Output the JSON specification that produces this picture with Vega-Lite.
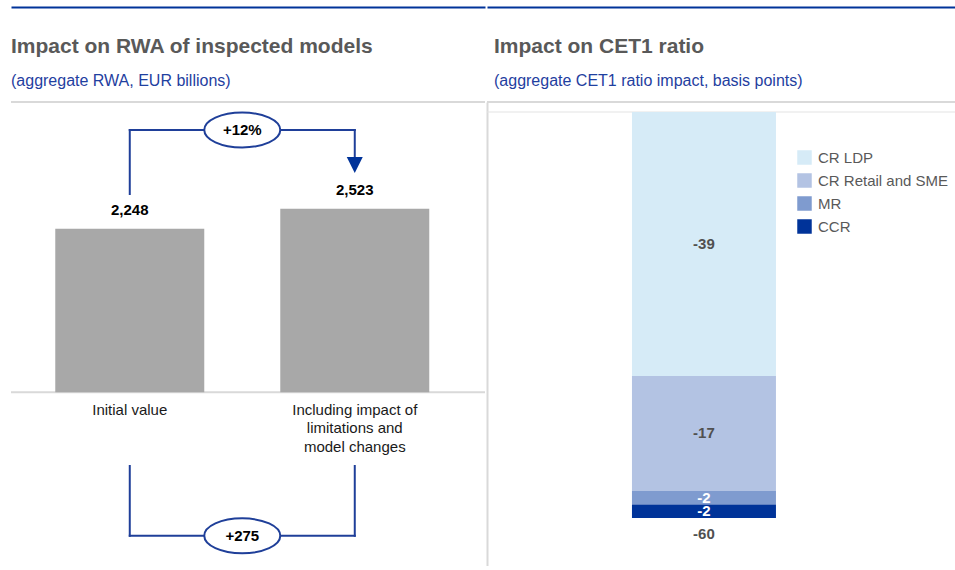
{
  "$schema": "https://vega.github.io/schema/vega-lite/v6.json",
  "padding": {"left": 10, "top": 7, "right": 0, "bottom": 0},
  "background": "white",
  "spacing": 0,
  "config": {
    "view": {"stroke": null},
    "font": "Liberation Sans",
    "title": {"font": "Liberation Sans", "subtitleFont": "Liberation Sans"},
    "locale": {"number": {"decimal": ".", "thousands": ",", "grouping": [3], "currency": ["", ""], "minus": "-"}}
  },
  "datasets": {
    "rwa": [
      {"stage": "Initial value", "rwa": 2248},
      {"stage": "Including impact of\nlimitations and\nmodel changes", "rwa": 2523}
    ],
    "cet1": [
      {"risk": "CR LDP", "bp": -39, "rank": 1},
      {"risk": "CR Retail and SME", "bp": -17, "rank": 2},
      {"risk": "MR", "bp": -2, "rank": 3},
      {"risk": "CCR", "bp": -2, "rank": 4}
    ]
  },
  "hconcat": [
    {
      "width": 474,
      "height": 464,
      "title": {
        "text": "Impact on RWA of inspected models",
        "subtitle": "(aggregate RWA, EUR billions)",
        "anchor": "start", "frame": "group", "offset": -82,
        "fontSize": 21, "fontWeight": "bold", "color": "#595959",
        "subtitleFontSize": 16, "subtitleColor": "#1f40a0", "subtitlePadding": 16
      },
      "layer": [
        {
          "data": {"values": [{}]},
          "mark": {"type": "rule", "color": "#d9d9d9", "strokeWidth": 2},
          "encoding": {"y": {"datum": 3990, "type": "quantitative", "scale": {"domain": [-2390, 3990], "nice": false, "zero": false}, "axis": null}}
        },
        {
          "data": {"values": [{}]},
          "mark": {"type": "rule", "color": "#d9d9d9", "strokeWidth": 2},
          "encoding": {"y": {"datum": 0, "type": "quantitative", "scale": {"domain": [-2390, 3990], "nice": false, "zero": false}, "axis": null}}
        },
        {
          "data": {"name": "rwa"},
          "mark": {"type": "bar", "color": "#a8a8a8", "width": 149},
          "encoding": {
            "x": {
              "field": "stage", "type": "nominal",
              "scale": {"type": "band", "domain": ["Initial value", "Change", "Including impact of\nlimitations and\nmodel changes"], "paddingInner": 0, "paddingOuter": 0.6067, "align": 0.458},
              "axis": {"orient": "top", "offset": 95, "domainColor": "#003399", "domainWidth": 2, "labels": false, "ticks": false, "grid": false, "title": null}
            },
            "y": {"field": "rwa", "type": "quantitative", "scale": {"domain": [-2390, 3990], "nice": false, "zero": false}, "axis": null}
          }
        },
        {
          "data": {"name": "rwa"},
          "mark": {"type": "text", "baseline": "alphabetic", "dy": -14, "fontSize": 15, "fontWeight": "bold", "color": "#000000"},
          "encoding": {
            "x": {"field": "stage", "type": "nominal", "axis": {"orient": "top", "offset": 95, "domainColor": "#003399", "domainWidth": 2, "labels": false, "ticks": false, "grid": false, "title": null}},
            "y": {"field": "rwa", "type": "quantitative", "scale": {"domain": [-2390, 3990], "nice": false, "zero": false}, "axis": null},
            "text": {"field": "rwa", "type": "quantitative", "format": ","}
          }
        },
        {
          "data": {"name": "rwa"},
          "mark": {"type": "text", "baseline": "alphabetic", "lineBreak": "\n", "lineHeight": 18.5, "fontSize": 15, "color": "#1a1a1a"},
          "encoding": {
            "x": {"field": "stage", "type": "nominal", "axis": {"orient": "top", "offset": 95, "domainColor": "#003399", "domainWidth": 2, "labels": false, "ticks": false, "grid": false, "title": null}},
            "y": {"datum": -313, "type": "quantitative", "scale": {"domain": [-2390, 3990], "nice": false, "zero": false}, "axis": null},
            "text": {"field": "stage", "type": "nominal"}
          }
        },
        {
          "data": {"values": [{}]},
          "mark": {"type": "rule", "color": "#1f3f99", "strokeWidth": 2, "strokeCap": "square"},
          "encoding": {
            "x": {"datum": "Initial value", "axis": {"orient": "top", "offset": 95, "domainColor": "#003399", "domainWidth": 2, "labels": false, "ticks": false, "grid": false, "title": null}},
            "y": {"datum": 2725, "type": "quantitative", "scale": {"domain": [-2390, 3990], "nice": false, "zero": false}, "axis": null},
            "y2": {"datum": 3605}
          }
        },
        {
          "data": {"values": [{}]},
          "mark": {"type": "rule", "color": "#1f3f99", "strokeWidth": 2, "strokeCap": "square"},
          "encoding": {
            "x": {"datum": "Initial value", "axis": {"orient": "top", "offset": 95, "domainColor": "#003399", "domainWidth": 2, "labels": false, "ticks": false, "grid": false, "title": null}},
            "x2": {"datum": "Including impact of\nlimitations and\nmodel changes"},
            "y": {"datum": 3605, "type": "quantitative", "scale": {"domain": [-2390, 3990], "nice": false, "zero": false}, "axis": null}
          }
        },
        {
          "data": {"values": [{}]},
          "mark": {"type": "rule", "color": "#1f3f99", "strokeWidth": 2, "strokeCap": "square"},
          "encoding": {
            "x": {"datum": "Including impact of\nlimitations and\nmodel changes", "axis": {"orient": "top", "offset": 95, "domainColor": "#003399", "domainWidth": 2, "labels": false, "ticks": false, "grid": false, "title": null}},
            "y": {"datum": 3605, "type": "quantitative", "scale": {"domain": [-2390, 3990], "nice": false, "zero": false}, "axis": null},
            "y2": {"datum": 3234}
          }
        },
        {
          "data": {"values": [{}]},
          "mark": {"type": "rule", "color": "#1f3f99", "strokeWidth": 2, "strokeCap": "square"},
          "encoding": {
            "x": {"datum": "Initial value", "axis": {"orient": "top", "offset": 95, "domainColor": "#003399", "domainWidth": 2, "labels": false, "ticks": false, "grid": false, "title": null}},
            "y": {"datum": -1015, "type": "quantitative", "scale": {"domain": [-2390, 3990], "nice": false, "zero": false}, "axis": null},
            "y2": {"datum": -1975}
          }
        },
        {
          "data": {"values": [{}]},
          "mark": {"type": "rule", "color": "#1f3f99", "strokeWidth": 2, "strokeCap": "square"},
          "encoding": {
            "x": {"datum": "Initial value", "axis": {"orient": "top", "offset": 95, "domainColor": "#003399", "domainWidth": 2, "labels": false, "ticks": false, "grid": false, "title": null}},
            "x2": {"datum": "Including impact of\nlimitations and\nmodel changes"},
            "y": {"datum": -1975, "type": "quantitative", "scale": {"domain": [-2390, 3990], "nice": false, "zero": false}, "axis": null}
          }
        },
        {
          "data": {"values": [{}]},
          "mark": {"type": "rule", "color": "#1f3f99", "strokeWidth": 2, "strokeCap": "square"},
          "encoding": {
            "x": {"datum": "Including impact of\nlimitations and\nmodel changes", "axis": {"orient": "top", "offset": 95, "domainColor": "#003399", "domainWidth": 2, "labels": false, "ticks": false, "grid": false, "title": null}},
            "y": {"datum": -1975, "type": "quantitative", "scale": {"domain": [-2390, 3990], "nice": false, "zero": false}, "axis": null},
            "y2": {"datum": -1015}
          }
        },
        {
          "data": {"values": [{}]},
          "mark": {"type": "point", "shape": "M-1,-1L1,-1L0,1Z", "size": 256, "filled": true, "fill": "#003399", "strokeWidth": 0, "opacity": 1},
          "encoding": {
            "x": {"datum": "Including impact of\nlimitations and\nmodel changes", "axis": {"orient": "top", "offset": 95, "domainColor": "#003399", "domainWidth": 2, "labels": false, "ticks": false, "grid": false, "title": null}},
            "y": {"datum": 3124, "type": "quantitative", "scale": {"domain": [-2390, 3990], "nice": false, "zero": false}, "axis": null}
          }
        },
        {
          "data": {"values": [{"change": "+12%", "at": 3605}, {"change": "+275", "at": -1975}]},
          "mark": {"type": "point", "shape": "M-1,0C-1,-0.254,-0.552,-0.46,0,-0.46C0.552,-0.46,1,-0.254,1,0C1,0.254,0.552,0.46,0,0.46C-0.552,0.46,-1,0.254,-1,0Z", "size": 5776, "filled": true, "fill": "#ffffff", "stroke": "#1f3f99", "strokeWidth": 2, "opacity": 1},
          "encoding": {
            "x": {"datum": "Change", "axis": {"orient": "top", "offset": 95, "domainColor": "#003399", "domainWidth": 2, "labels": false, "ticks": false, "grid": false, "title": null}},
            "y": {"field": "at", "type": "quantitative", "scale": {"domain": [-2390, 3990], "nice": false, "zero": false}, "axis": null}
          }
        },
        {
          "data": {"values": [{"change": "+12%", "at": 3605}, {"change": "+275", "at": -1975}]},
          "mark": {"type": "text", "fontSize": 15, "fontWeight": "bold", "color": "#000000", "baseline": "middle"},
          "encoding": {
            "x": {"datum": "Change", "axis": {"orient": "top", "offset": 95, "domainColor": "#003399", "domainWidth": 2, "labels": false, "ticks": false, "grid": false, "title": null}},
            "y": {"field": "at", "type": "quantitative", "scale": {"domain": [-2390, 3990], "nice": false, "zero": false}, "axis": null},
            "text": {"field": "change", "type": "nominal"}
          }
        }
      ]
    },
    {
      "width": 468,
      "height": 464,
      "title": {
        "text": "Impact on CET1 ratio",
        "subtitle": "(aggregate CET1 ratio impact, basis points)",
        "anchor": "start", "frame": "group", "offset": -82, "dx": 7,
        "fontSize": 21, "fontWeight": "bold", "color": "#595959",
        "subtitleFontSize": 16, "subtitleColor": "#1f40a0", "subtitlePadding": 16
      },
      "layer": [
        {
          "data": {"values": [{}]},
          "mark": {"type": "rule", "color": "#d9d9d9", "strokeWidth": 2},
          "encoding": {"y": {"datum": 1.478, "type": "quantitative", "scale": {"domain": [-67.09, 1.478], "nice": false}, "axis": {"orient": "left", "domainColor": "#d9d9d9", "domainWidth": 2, "labels": false, "ticks": false, "grid": false, "title": null}}}
        },
        {
          "data": {"values": [{}]},
          "mark": {"type": "rule", "color": "#e3e3e3", "strokeWidth": 1},
          "encoding": {"y": {"datum": 0, "type": "quantitative", "scale": {"domain": [-67.09, 1.478], "nice": false}, "axis": {"orient": "left", "domainColor": "#d9d9d9", "domainWidth": 2, "labels": false, "ticks": false, "grid": false, "title": null}}}
        },
        {
          "data": {"name": "cet1"},
          "mark": {"type": "bar", "width": 144},
          "encoding": {
            "x": {
              "datum": "CET1 ratio impact",
              "scale": {"type": "band", "paddingInner": 0, "paddingOuter": 1, "align": 0.4454},
              "axis": {"orient": "top", "offset": 95, "domainColor": "#003399", "domainWidth": 2, "labels": false, "ticks": false, "grid": false, "title": null}
            },
            "y": {
              "field": "bp", "type": "quantitative", "stack": "zero",
              "scale": {"domain": [-67.09, 1.478], "nice": false},
              "axis": {"orient": "left", "domainColor": "#d9d9d9", "domainWidth": 2, "labels": false, "ticks": false, "grid": false, "title": null}
            },
            "color": {
              "field": "risk", "type": "nominal",
              "scale": {"domain": ["CR LDP", "CR Retail and SME", "MR", "CCR"], "range": ["#d6ebf7", "#b3c3e3", "#7f9bcf", "#003399"]},
              "legend": {"orient": "none", "legendX": 786, "legendY": 48, "title": null, "padding": 0, "labelFontSize": 15, "labelColor": "#595959", "labelFont": "Liberation Sans", "symbolType": "square", "symbolSize": 210, "symbolStrokeWidth": 0, "symbolOpacity": 1, "labelOffset": 6, "rowPadding": 7}
            },
            "order": {"field": "rank", "type": "quantitative"}
          }
        },
        {
          "data": {"name": "cet1"},
          "mark": {"type": "text", "fontSize": 15, "fontWeight": "bold", "baseline": "middle"},
          "encoding": {
            "x": {"datum": "CET1 ratio impact", "axis": {"orient": "top", "offset": 95, "domainColor": "#003399", "domainWidth": 2, "labels": false, "ticks": false, "grid": false, "title": null}},
            "y": {"field": "bp", "type": "quantitative", "stack": "zero", "bandPosition": 0.5, "scale": {"domain": [-67.09, 1.478], "nice": false}, "axis": {"orient": "left", "domainColor": "#d9d9d9", "domainWidth": 2, "labels": false, "ticks": false, "grid": false, "title": null}},
            "detail": {"field": "risk", "type": "nominal"},
            "order": {"field": "rank", "type": "quantitative"},
            "text": {"field": "bp", "type": "quantitative"},
            "color": {"condition": {"test": "datum.rank > 2", "value": "#ffffff"}, "value": "#505050"}
          }
        },
        {
          "data": {"name": "cet1"},
          "mark": {"type": "text", "fontSize": 15, "fontWeight": "bold", "baseline": "middle", "dy": 16, "color": "#505050"},
          "encoding": {
            "x": {"datum": "CET1 ratio impact", "axis": {"orient": "top", "offset": 95, "domainColor": "#003399", "domainWidth": 2, "labels": false, "ticks": false, "grid": false, "title": null}},
            "y": {"aggregate": "sum", "field": "bp", "type": "quantitative", "stack": null, "scale": {"domain": [-67.09, 1.478], "nice": false}, "axis": {"orient": "left", "domainColor": "#d9d9d9", "domainWidth": 2, "labels": false, "ticks": false, "grid": false, "title": null}},
            "text": {"aggregate": "sum", "field": "bp", "type": "quantitative"}
          }
        }
      ]
    }
  ]
}
